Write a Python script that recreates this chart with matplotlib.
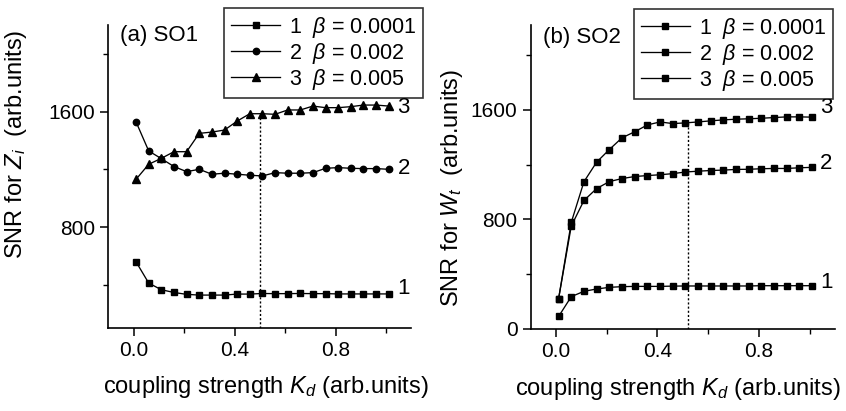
import numpy as np
import matplotlib
matplotlib.use('Agg')
import matplotlib.pyplot as plt
from matplotlib.ticker import MultipleLocator

plt.rcParams['font.family'] = ['Liberation Sans', 'DejaVu Sans']
plt.rcParams['mathtext.fontset'] = 'custom'
plt.rcParams['mathtext.rm'] = 'Liberation Sans'
plt.rcParams['mathtext.it'] = 'Liberation Sans:italic'
plt.rcParams['mathtext.bf'] = 'Liberation Sans:bold'

# coupling strength K_d, common to both panels
kd = [0.01, 0.06, 0.11, 0.16, 0.21, 0.26, 0.31, 0.36, 0.41, 0.46, 0.51,
      0.56, 0.61, 0.66, 0.71, 0.76, 0.81, 0.86, 0.91, 0.96, 1.01]

# (a) SO1: SNR for Z_i
so1_b1 = [560, 413, 367, 348, 335, 330, 330, 330, 337, 337, 341,
          340, 340, 341, 340, 340, 338, 338, 338, 338, 338]
so1_b2 = [1529, 1328, 1275, 1220, 1185, 1201, 1167, 1174, 1167, 1160, 1155,
          1178, 1174, 1174, 1178, 1208, 1213, 1208, 1206, 1206, 1201]
so1_b3 = [1132, 1236, 1277, 1323, 1323, 1450, 1459, 1473, 1535, 1586, 1586,
          1582, 1612, 1612, 1639, 1628, 1628, 1635, 1646, 1646, 1639]

# (b) SO2: SNR for W_t
so2_b1 = [90, 235, 274, 291, 303, 308, 310, 310, 310, 312, 313,
          313, 313, 313, 313, 313, 315, 315, 315, 315, 315]
so2_b2 = [220, 751, 938, 1025, 1076, 1098, 1113, 1120, 1126, 1134, 1146,
          1152, 1157, 1160, 1165, 1166, 1170, 1172, 1172, 1177, 1180]
so2_b3 = [220, 778, 1075, 1218, 1310, 1396, 1440, 1490, 1512, 1500, 1505,
          1512, 1520, 1527, 1532, 1535, 1539, 1544, 1549, 1549, 1547]

beta_labels = [r'1  $\beta$ = 0.0001', r'2  $\beta$ = 0.002', r'3  $\beta$ = 0.005']

fig = plt.figure(figsize=(8.46, 4.11), dpi=100)
ax1 = fig.add_axes([0.128, 0.203, 0.3584, 0.736])
ax2 = fig.add_axes([0.6273, 0.200, 0.3597, 0.739])

line_kw = dict(color='black', linewidth=0.95)


def style_axes(ax, ylim):
    ax.set_xlim(-0.1, 1.1)
    ax.set_ylim(*ylim)
    for side in ('top', 'right'):
        ax.spines[side].set_visible(False)
    for side in ('left', 'bottom'):
        ax.spines[side].set_linewidth(1.2)
    ax.xaxis.set_major_locator(MultipleLocator(0.4))
    ax.xaxis.set_minor_locator(MultipleLocator(0.2))
    ax.yaxis.set_major_locator(MultipleLocator(800))
    ax.yaxis.set_minor_locator(MultipleLocator(400))
    ax.xaxis.set_major_formatter(plt.FormatStrFormatter('%.1f'))
    ax.tick_params(which='major', direction='out', length=5.5, width=1.1,
                   labelsize=15, pad=4)
    ax.tick_params(which='minor', direction='out', length=3.5, width=1.0)


# panel (a)
style_axes(ax1, (105, 2200))
ax1.plot(kd, so1_b1, marker='s', markersize=4.5, label=beta_labels[0], **line_kw)
ax1.plot(kd, so1_b2, marker='o', markersize=4.6, label=beta_labels[1], **line_kw)
ax1.plot(kd, so1_b3, marker='^', markersize=5.2, label=beta_labels[2], **line_kw)
ax1.vlines(0.5, 105, so1_b3[10], colors='black', linestyles=(0, (1.5, 1.5)),
           linewidth=1.0)
ax1.text(-0.055, 2130, '(a) SO1', fontsize=16, va='center', ha='left')
ax1.text(1.045, 1632, '3', fontsize=16, va='center', ha='left')
ax1.text(1.045, 1207, '2', fontsize=16, va='center', ha='left')
ax1.text(1.045, 375, '1', fontsize=16, va='center', ha='left')
ax1.set_ylabel(r'SNR for $Z_i$  (arb.units)', fontsize=17)
ax1.yaxis.set_label_coords(-0.262, 0.605)
ax1.set_xlabel(r'coupling strength $K_d$ (arb.units)', fontsize=17)
ax1.xaxis.set_label_coords(0.52, -0.155)

# panel (b)
style_axes(ax2, (0, 2220))
ax2.plot(kd, so2_b1, marker='s', markersize=4.5, label=beta_labels[0], **line_kw)
ax2.plot(kd, so2_b2, marker='s', markersize=4.5, label=beta_labels[1], **line_kw)
ax2.plot(kd, so2_b3, marker='s', markersize=4.5, label=beta_labels[2], **line_kw)
ax2.vlines(0.52, 0, so2_b3[10], colors='black', linestyles=(0, (1.5, 1.5)),
           linewidth=1.0)
ax2.text(-0.05, 2130, '(b) SO2', fontsize=16, va='center', ha='left')
ax2.text(1.04, 1615, '3', fontsize=16, va='center', ha='left')
ax2.text(1.04, 1207, '2', fontsize=16, va='center', ha='left')
ax2.text(1.04, 337, '1', fontsize=16, va='center', ha='left')
ax2.set_ylabel(r'SNR for $W_t$  (arb.units)', fontsize=17)
ax2.yaxis.set_label_coords(-0.215, 0.465)
ax2.set_xlabel(r'coupling strength $K_d$ (arb.units)', fontsize=17)
ax2.xaxis.set_label_coords(0.485, -0.155)

for ax, anchor in ((ax1, (1.037, 1.056)), (ax2, (0.992, 1.052))):
    leg = ax.legend(loc='upper right', bbox_to_anchor=anchor, borderaxespad=0,
                    fontsize=15.5, frameon=True, fancybox=False,
                    handlelength=2.3, handletextpad=0.4, labelspacing=0.05,
                    borderpad=0.3)
    leg.get_frame().set_edgecolor('black')
    leg.get_frame().set_linewidth(1.2)

fig.savefig('out.png', dpi=100)
